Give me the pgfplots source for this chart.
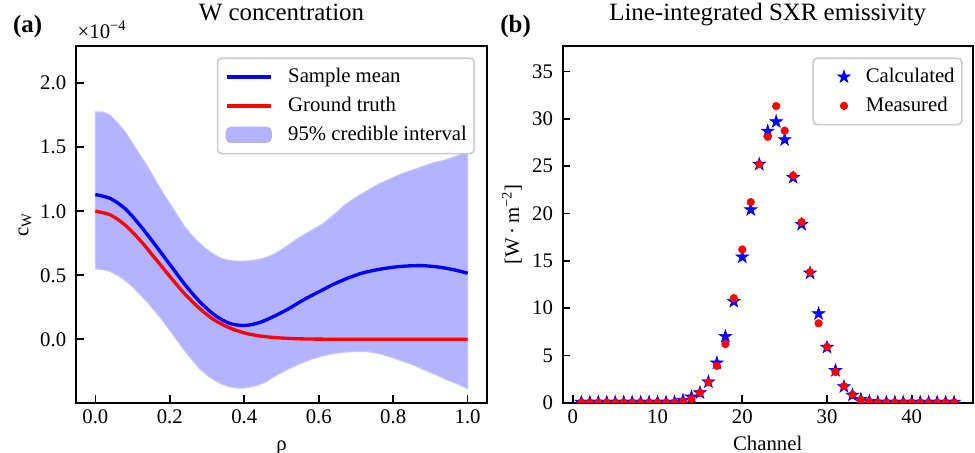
\documentclass[border=0pt]{standalone}
\usepackage{fontspec}
\setmainfont{Liberation Serif}
\usepackage{pgfplots}
\pgfplotsset{compat=1.18}

\definecolor{bandfill}{RGB}{179,179,255}
\definecolor{bandedge}{RGB}{196,196,255}
\definecolor{legframe}{RGB}{204,204,204}

% filled five-point star, like matplotlib's '*'
\pgfdeclareplotmark{fstar}{%
  \pgfpathmoveto{\pgfpointpolar{90}{\pgfplotmarksize}}%
  \pgfpathlineto{\pgfpointpolar{126}{0.382\pgfplotmarksize}}%
  \pgfpathlineto{\pgfpointpolar{162}{\pgfplotmarksize}}%
  \pgfpathlineto{\pgfpointpolar{198}{0.382\pgfplotmarksize}}%
  \pgfpathlineto{\pgfpointpolar{234}{\pgfplotmarksize}}%
  \pgfpathlineto{\pgfpointpolar{270}{0.382\pgfplotmarksize}}%
  \pgfpathlineto{\pgfpointpolar{306}{\pgfplotmarksize}}%
  \pgfpathlineto{\pgfpointpolar{342}{0.382\pgfplotmarksize}}%
  \pgfpathlineto{\pgfpointpolar{18}{\pgfplotmarksize}}%
  \pgfpathlineto{\pgfpointpolar{54}{0.382\pgfplotmarksize}}%
  \pgfpathclose
  \pgfusepathqfillstroke}

\pgfplotsset{
  panel/.style={
    scale only axis, anchor=south west, height=171.2bp,
    axis line style={line width=0.8bp},
    tick align=inside, xtick pos=left, ytick pos=left,
    tick style={line width=0.8bp, black}, major tick length=3.7bp,
    /pgf/number format/assume math mode=true,
    tick label style={font=\fontsize{10}{12}\selectfont},
    yticklabel style={xshift=-1.2bp},
    label style={font=\fontsize{10}{12}\selectfont},
    xlabel style={at={(0.5,0)}, anchor=base, yshift=-23bp},
    ylabel style={at={(-0.124,0.5)}, anchor=center},
    title style={font=\fontsize{12}{14}\selectfont, at={(0.5,1)}, anchor=base, yshift=6.1bp},
    clip marker paths=true,
    legend cell align=left,
    legend style={draw=legframe, line width=0.8bp, rounded corners=2bp, fill=white,
      font=\fontsize{10}{12}\selectfont, inner xsep=3.5bp, inner ysep=4.5bp,
      nodes={inner sep=0bp, text height=7bp, text depth=2bp}, row sep=4.9bp,
      anchor=north east},
  },
}

\begin{document}
\begin{tikzpicture}
\useasboundingbox (0,0) rectangle (468bp,217.44bp);

\begin{axis}[panel, name=pa,
  at={(36.48bp,24.14bp)}, width=197.28bp,
  xmin=-0.052, xmax=1.052, ymin=-0.495, ymax=2.29,
  xtick={0,0.2,0.4,0.6,0.8,1.0}, ytick={0,0.5,1.0,1.5,2.0},
  xticklabel style={/pgf/number format/.cd, fixed, fixed zerofill, precision=1},
  yticklabel style={/pgf/number format/.cd, fixed, fixed zerofill, precision=1},
  title={W concentration}, xlabel={ρ}, ylabel={c\textsubscript{W}},
  legend style={at={(0.9708,0.9683)}},
  legend image code/.code={\draw[#1] (0bp,0bp) -- (21.3bp,0bp); \path (28.8bp,0bp);},
]
% 95% credible interval: upper edge left to right, lower edge back
\addplot[fill=bandfill, draw=bandedge, line width=0.5bp, forget plot] coordinates {
  (0.00,1.775)(0.02,1.775)(0.04,1.75)(0.06,1.69)(0.08,1.62)(0.10,1.53)(0.12,1.44)
  (0.14,1.35)(0.16,1.25)(0.18,1.15)(0.20,1.06)(0.22,0.97)(0.24,0.88)(0.26,0.81)
  (0.28,0.75)(0.30,0.70)(0.32,0.66)(0.34,0.63)(0.36,0.615)(0.38,0.61)(0.40,0.61)
  (0.42,0.615)(0.44,0.625)(0.46,0.64)(0.48,0.665)(0.50,0.70)(0.52,0.74)(0.55,0.80)
  (0.58,0.85)(0.61,0.90)(0.64,0.97)(0.67,1.05)(0.70,1.11)(0.73,1.16)(0.76,1.21)
  (0.79,1.25)(0.82,1.29)(0.85,1.32)(0.88,1.35)(0.91,1.38)(0.94,1.40)(0.97,1.43)(1.00,1.47)
  (1.00,-0.385)(0.97,-0.345)(0.94,-0.31)(0.91,-0.27)(0.88,-0.235)(0.85,-0.195)
  (0.82,-0.165)(0.79,-0.135)(0.76,-0.11)(0.73,-0.095)(0.70,-0.095)(0.67,-0.10)
  (0.64,-0.11)(0.61,-0.13)(0.58,-0.155)(0.55,-0.19)(0.52,-0.23)(0.50,-0.26)
  (0.48,-0.29)(0.46,-0.33)(0.44,-0.355)(0.42,-0.37)(0.40,-0.38)(0.38,-0.38)
  (0.36,-0.37)(0.34,-0.35)(0.32,-0.32)(0.30,-0.28)(0.28,-0.23)(0.26,-0.16)
  (0.24,-0.09)(0.22,-0.01)(0.20,0.07)(0.18,0.15)(0.16,0.22)(0.14,0.29)(0.12,0.35)
  (0.10,0.41)(0.08,0.46)(0.06,0.50)(0.04,0.53)(0.02,0.545)(0.00,0.55)
} -- cycle;
% sample mean
\addplot[blue, line width=1.6bp, smooth] coordinates {
  (0.00,1.13)(0.04,1.10)(0.08,1.02)(0.12,0.89)(0.16,0.74)(0.20,0.585)(0.24,0.43)
  (0.28,0.295)(0.32,0.19)(0.36,0.125)(0.40,0.108)(0.44,0.13)(0.48,0.18)(0.52,0.24)
  (0.56,0.31)(0.60,0.37)(0.64,0.43)(0.68,0.48)(0.72,0.52)(0.76,0.545)(0.80,0.563)
  (0.84,0.573)(0.88,0.575)(0.92,0.565)(0.96,0.545)(1.00,0.516)
};
\addlegendentry{Sample mean}
% ground truth
\addplot[red, line width=1.6bp, smooth] coordinates {
  (0.00,1.0)(0.04,0.972)(0.08,0.892)(0.12,0.774)(0.16,0.634)(0.20,0.491)(0.24,0.355)
  (0.28,0.24)(0.32,0.15)(0.36,0.09)(0.40,0.05)(0.44,0.027)(0.48,0.014)(0.52,0.007)
  (0.56,0.003)(0.60,0.0015)(0.64,0.0005)(0.70,0.0)(0.80,0.0)(0.90,0.0)(1.00,0.0)
};
\addlegendentry{Ground truth}
\addlegendimage{legend image code/.code={\fill[bandfill] (0bp,-3.5bp) rectangle (21.3bp,3.5bp); \path (28.8bp,0bp);}}
\addlegendentry{95\% credible interval}
\end{axis}
\node[anchor=base west, inner sep=0pt, font=\fontsize{10}{12}\selectfont]
  at ([xshift=0.6bp, yshift=3.7bp]pa.north west) {×10\textsuperscript{−4}};

\begin{axis}[panel,
  at={(270.1bp,24.14bp)}, width=196.8bp,
  xmin=-1.2, xmax=47.2, ymin=0, ymax=37.7,
  xtick={0,10,20,30,40}, ytick={0,5,10,15,20,25,30,35},
  title={Line-integrated SXR emissivity}, xlabel={Channel},
  ylabel={[W\,·\,m\textsuperscript{−2}]},
  legend style={at={(0.9756,0.9683)}},
  legend image code/.code={\path (0bp,0bp) (21bp,0bp);
    \draw[mark repeat=2, mark phase=2, #1] plot coordinates {(0bp,0bp)(10.9bp,0bp)(21.8bp,0bp)};},
]
\addplot[only marks, mark=fstar, mark size=3.2bp, blue, mark options={fill=blue, draw=blue, line width=0.3bp}] coordinates {
  (1,0.05)(2,0.05)(3,0.05)(4,0.05)(5,0.05)(6,0.05)(7,0.05)(8,0.05)(9,0.05)(10,0.05)
  (11,0.05)(12,0.05)(13,0.25)(14,0.6)(15,1.05)(16,2.2)(17,4.2)(18,7.0)(19,10.7)(20,15.4)
  (21,20.4)(22,25.2)(23,28.7)(24,29.7)(25,27.8)(26,23.8)(27,18.85)(28,13.7)(29,9.4)(30,5.85)
  (31,3.4)(32,1.7)(33,0.8)(34,0.35)(35,0.15)(36,0.05)(37,0.05)(38,0.05)(39,0.05)(40,0.05)
  (41,0.05)(42,0.05)(43,0.05)(44,0.05)(45,0.05)
};
\addlegendentry{Calculated}
\addplot[only marks, mark=*, mark size=1.8bp, red, mark options={fill=red, draw=red, line width=0.3bp}] coordinates {
  (1,0.02)(2,0.02)(3,0.02)(4,0.02)(5,0.02)(6,0.02)(7,0.02)(8,0.02)(9,0.02)(10,0.02)
  (11,0.02)(12,0.02)(13,0.1)(14,0.4)(15,1.05)(16,2.15)(17,3.9)(18,6.2)(19,11.05)(20,16.2)
  (21,21.2)(22,25.2)(23,28.1)(24,31.35)(25,28.75)(26,24.0)(27,19.1)(28,13.8)(29,8.4)(30,5.9)
  (31,3.25)(32,1.75)(33,0.85)(34,0.3)(35,0.1)(36,0.02)(37,0.02)(38,0.02)(39,0.02)(40,0.02)
  (41,0.02)(42,0.02)(43,0.02)(44,0.02)(45,0.02)
};
\addlegendentry{Measured}
\end{axis}

\node[anchor=base west, inner sep=0pt, font=\bfseries\fontsize{12}{14}\selectfont] at (6.1bp,201.9bp) {(a)};
\node[anchor=base west, inner sep=0pt, font=\bfseries\fontsize{12}{14}\selectfont] at (240bp,201.9bp) {(b)};
\end{tikzpicture}
\end{document}
